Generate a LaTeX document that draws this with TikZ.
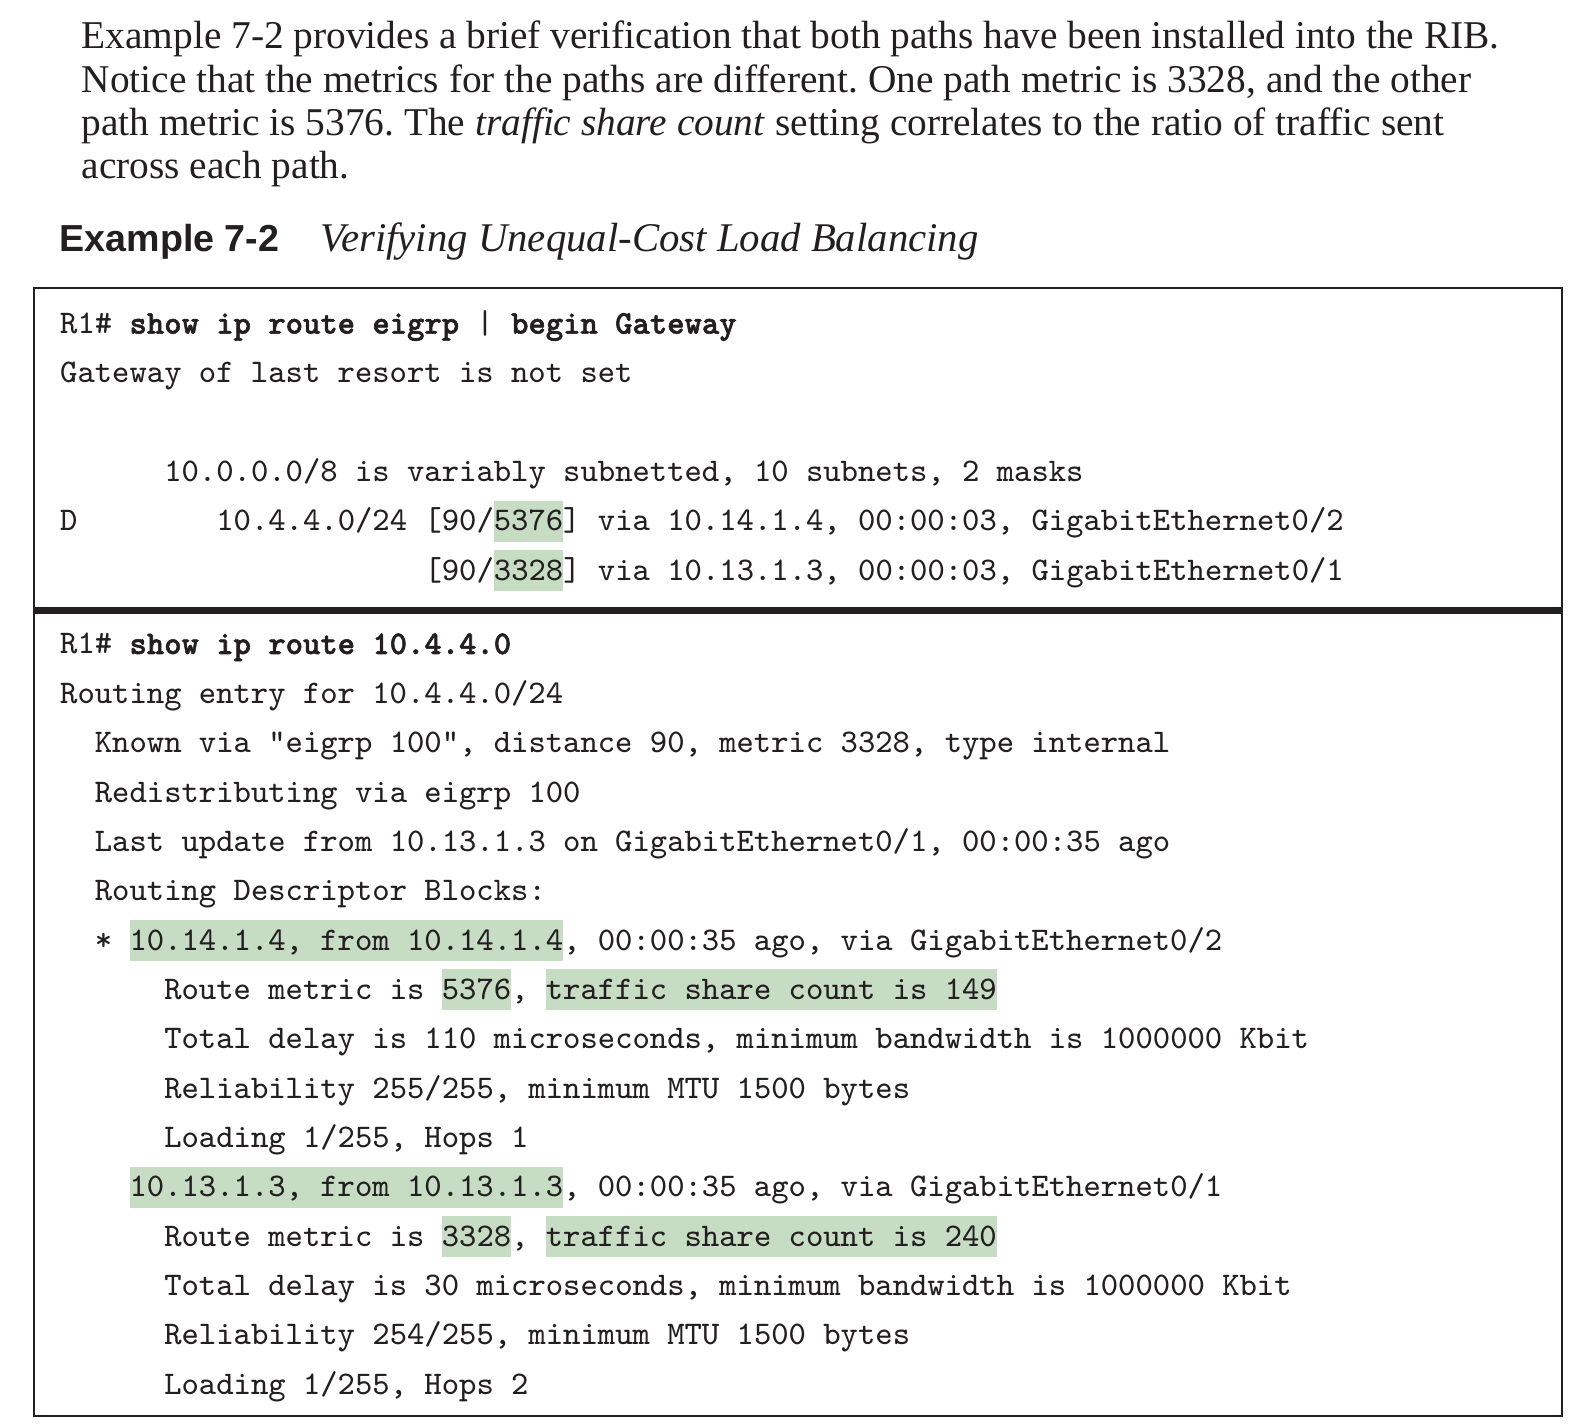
\documentclass[tikz,border=0pt]{standalone}
\usepackage{fontspec}
\setmainfont{Liberation Serif}
\setsansfont{Liberation Sans}
\newfontfamily\cmdfont{lmmonolt10-bold.otf}[FakeBold=1.6]
\usepackage{tikz}

\definecolor{hlgreen}{RGB}{198,221,196}
\definecolor{inkblack}{RGB}{35,31,32}

% green marker behind a piece of output
\newcommand{\hlbox}[1]{{\setlength{\fboxsep}{0pt}\colorbox{hlgreen}{\rule[-1.07mm]{0pt}{4.07mm}#1}}}
% typed command
\newcommand{\cmdtxt}[1]{{\cmdfont #1}}

\tikzset
{
    bodytext/.style = {anchor=base west, inner sep=0pt, text=inkblack,
                          font=\fontsize{11.2pt}{12.3pt}\selectfont\frenchspacing},
    headtext/.style = {anchor=base west, inner sep=0pt, text=inkblack,
                          font=\fontsize{10.7pt}{12pt}\selectfont\sffamily\bfseries},
    captext/.style  = {anchor=base west, inner sep=0pt, text=inkblack,
                          font=\fontsize{11.6pt}{13pt}\selectfont\itshape},
    codeline/.style = {anchor=base west, inner sep=0pt, text=inkblack,
                          font=\fontsize{9.4pt}{11pt}\selectfont\ttfamily\frenchspacing},
    listbox/.style  = {draw=inkblack, line width=0.2mm},
    rowrule/.style  = {draw=inkblack, line width=0.7mm}
}

\begin{document}
\begin{tikzpicture}[x=0.1mm, y=-0.1mm]
    \useasboundingbox (0,0) rectangle (1594,1426);
    % text above the example
    \node[bodytext] (par1) at (81,49) {Example 7-2 provides a brief verification that both paths have been installed into the RIB.};
    \node[bodytext] (par2) at (81,92.3) {Notice that the metrics for the paths are different. One path metric is 3328, and the other};
    \node[bodytext] (par3) at (81,135.6) {path metric is 5376. The \textit{traffic share count} setting correlates to the ratio of traffic sent};
    \node[bodytext] (par4) at (81,178.9) {across each path.};
    % caption
    \node[headtext] (head) at (59,252) {Example 7-2};
    \node[captext] (cap) at (320,252) {Verifying Unequal-Cost Load Balancing};
    % frame and separator
    \draw[listbox] (33.5,288) rectangle (1561.5,1416);
    \draw[rowrule] (33.5,610.5) -- (1561.5,610.5);
    % first command
    \node[codeline] (a1) at (59.5,333.6) {R1\# \cmdtxt{show ip route eigrp} | \cmdtxt{begin Gateway}};
    \node[codeline] (a2) at (59.5,383) {Gateway of last resort is not set};
    \node[codeline] (a4) at ({59.5+6*17.35},481.7) {10.0.0.0/8 is variably subnetted, 10 subnets, 2 masks};
    \node[codeline] (a5) at (59.5,531) {D};
    \node[codeline] (a5b) at ({59.5+9*17.35},531) {10.4.4.0/24 [90/\hlbox{5376}] via 10.14.1.4, 00:00:03, GigabitEthernet0/2};
    \node[codeline] (a6) at ({59.5+21*17.35},580.4) {[90/\hlbox{3328}] via 10.13.1.3, 00:00:03, GigabitEthernet0/1};
    % second command
    \node[codeline] (b1) at (59.5,654) {R1\# \cmdtxt{show ip route 10.4.4.0}};
    \node[codeline] (b2) at (59.5,703.4) {Routing entry for 10.4.4.0/24};
    \node[codeline] (b3) at ({59.5+2*17.35},752.7) {Known via "eigrp 100", distance 90, metric 3328, type internal};
    \node[codeline] (b4) at ({59.5+2*17.35},802.1) {Redistributing via eigrp 100};
    \node[codeline] (b5) at ({59.5+2*17.35},851.4) {Last update from 10.13.1.3 on GigabitEthernet0/1, 00:00:35 ago};
    \node[codeline] (b6) at ({59.5+2*17.35},900.8) {Routing Descriptor Blocks:};
    \node[codeline] (b7) at ({59.5+2*17.35},950.1) {* \hlbox{10.14.1.4, from 10.14.1.4}, 00:00:35 ago, via GigabitEthernet0/2};
    \node[codeline] (b8) at ({59.5+6*17.35},999.5) {Route metric is \hlbox{5376}, \hlbox{traffic share count is 149}};
    \node[codeline] (b9) at ({59.5+6*17.35},1048.8) {Total delay is 110 microseconds, minimum bandwidth is 1000000 Kbit};
    \node[codeline] (b10) at ({59.5+6*17.35},1098.2) {Reliability 255/255, minimum MTU 1500 bytes};
    \node[codeline] (b11) at ({59.5+6*17.35},1147.5) {Loading 1/255, Hops 1};
    \node[codeline] (b12) at ({59.5+4*17.35},1196.9) {\hlbox{10.13.1.3, from 10.13.1.3}, 00:00:35 ago, via GigabitEthernet0/1};
    \node[codeline] (b13) at ({59.5+6*17.35},1246.2) {Route metric is \hlbox{3328}, \hlbox{traffic share count is 240}};
    \node[codeline] (b14) at ({59.5+6*17.35},1295.6) {Total delay is 30 microseconds, minimum bandwidth is 1000000 Kbit};
    \node[codeline] (b15) at ({59.5+6*17.35},1344.9) {Reliability 254/255, minimum MTU 1500 bytes};
    \node[codeline] (b16) at ({59.5+6*17.35},1394.3) {Loading 1/255, Hops 2};
\end{tikzpicture}
\end{document}
